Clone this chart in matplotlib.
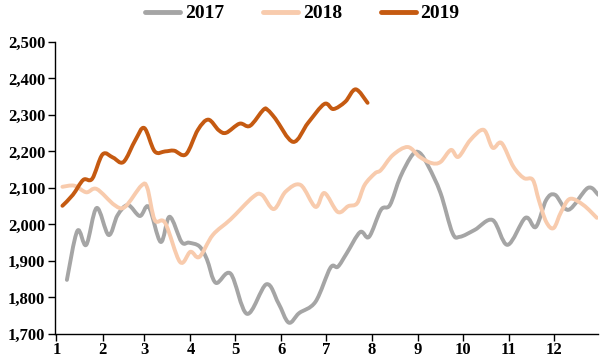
import numpy as np
import matplotlib
matplotlib.use("Agg")
import matplotlib.pyplot as plt
from matplotlib.path import Path
from matplotlib.patches import PathPatch
from matplotlib.lines import Line2D

# ---------------------------------
# Data (day of year, value)
# ---------------------------------
days_2017 = [8, 15, 21, 28, 36, 42, 49, 57, 63, 71, 77, 85, 90, 97, 102, 108,
             118, 129, 142, 150, 157, 164, 175, 185, 190, 196, 205, 211, 219,
             225, 232, 240, 245, 251, 259, 267, 272, 282, 294, 304, 316, 323,
             330, 336, 345, 358, 365]
vals_2017 = [1848, 1982, 1944, 2045, 1971, 2025, 2053, 2023, 2048, 1952, 2021,
             1952, 1950, 1940, 1905, 1840, 1865, 1755, 1836, 1785, 1731, 1757,
             1788, 1881, 1884, 1921, 1979, 1966, 2040, 2053, 2130, 2190, 2196,
             2158, 2086, 1977, 1966, 1985, 2012, 1944, 2018, 1993, 2067, 2081,
             2040, 2100, 2081]

days_2018 = [5, 13, 21, 28, 40, 47, 58, 62, 67, 74, 84, 91, 97, 106, 118, 133,
             139, 147, 155, 165, 175, 181, 190, 197, 203, 208, 215, 219, 227,
             237, 245, 253, 259, 266, 271, 279, 288, 294, 300, 308, 315, 321,
             325, 330, 335, 340, 346, 355, 364]
vals_2018 = [2103, 2106, 2088, 2097, 2053, 2048, 2106, 2100, 2012, 2004, 1897,
             1925, 1911, 1971, 2014, 2075, 2081, 2042, 2090, 2108, 2048, 2086,
             2034, 2050, 2058, 2108, 2140, 2149, 2190, 2212, 2185, 2168, 2171,
             2204, 2185, 2231, 2259, 2210, 2223, 2158, 2127, 2122, 2067, 2007,
             1990, 2034, 2070, 2053, 2018]

days_2019 = [5, 12, 19, 25, 32, 39, 46, 54, 60, 67, 74, 80, 88, 96, 103, 110,
             115, 124, 131, 140, 143, 148, 160, 170, 181, 187, 195, 202, 210]
vals_2019 = [2051, 2081, 2122, 2125, 2192, 2183, 2171, 2231, 2264, 2200, 2200,
             2202, 2192, 2259, 2287, 2258, 2251, 2276, 2270, 2314, 2313, 2290,
             2226, 2278, 2330, 2316, 2336, 2370, 2333]

month_starts = [1, 32, 60, 91, 121, 152, 182, 213, 244, 274, 305, 335]
month_labels = [str(m) for m in range(1, 13)]
y_ticks = [1700, 1800, 1900, 2000, 2100, 2200, 2300, 2400, 2500]

series = [
    ("2017", days_2017, vals_2017, "#A5A5A5"),
    ("2018", days_2018, vals_2018, "#F8CBAD"),
    ("2019", days_2019, vals_2019, "#C55A11"),
]


def smooth_path(xs, ys):
    # Excel-style smoothed line: Catmull-Rom segments as cubic Beziers
    p = np.column_stack([xs, ys]).astype(float)
    n = len(p)
    verts = [p[0]]
    codes = [Path.MOVETO]
    for i in range(n - 1):
        p0 = p[i - 1] if i > 0 else p[i]
        p3 = p[i + 2] if i + 2 < n else p[i + 1]
        c1 = p[i] + (p[i + 1] - p0) / 6.0
        c2 = p[i + 1] - (p3 - p[i]) / 6.0
        verts += [c1, c2, p[i + 1]]
        codes += [Path.CURVE4] * 3
    return Path(verts, codes)


plt.rcParams["font.family"] = ["Liberation Serif", "DejaVu Serif"]
plt.rcParams["font.weight"] = "bold"

fig = plt.figure(figsize=(6.01, 3.61), dpi=100)
ax = fig.add_axes([0.0915, 0.075, 0.904, 0.809])

handles = []
for name, xs, ys, col in series:
    patch = PathPatch(smooth_path(xs, ys), facecolor="none", edgecolor=col,
                      lw=2.8, capstyle="round", joinstyle="round")
    ax.add_patch(patch)
    handles.append(Line2D([], [], color=col, lw=3.5, solid_capstyle="round"))

ax.set_xlim(0, 365)
ax.set_ylim(1700, 2500)
ax.set_xticks(month_starts)
ax.set_xticklabels(month_labels)
ax.set_yticks(y_ticks)
ax.set_yticklabels([f"{v:,}" for v in y_ticks])

for s in ["top", "right"]:
    ax.spines[s].set_visible(False)
for s in ["left", "bottom"]:
    ax.spines[s].set_color("black")
    ax.spines[s].set_linewidth(1.0)

ax.tick_params(axis="both", direction="out", length=5, width=1, colors="black",
               labelsize=12)
ax.tick_params(axis="x", pad=1)
ax.tick_params(axis="y", pad=2)

fig.legend(handles, ["2017", "2018", "2019"], loc="upper center",
           bbox_to_anchor=(0.503, 1.035), ncol=3, frameon=False, fontsize=14,
           handlelength=1.8, handletextpad=0.25, columnspacing=2.0)

fig.savefig("out.png", dpi=100)
